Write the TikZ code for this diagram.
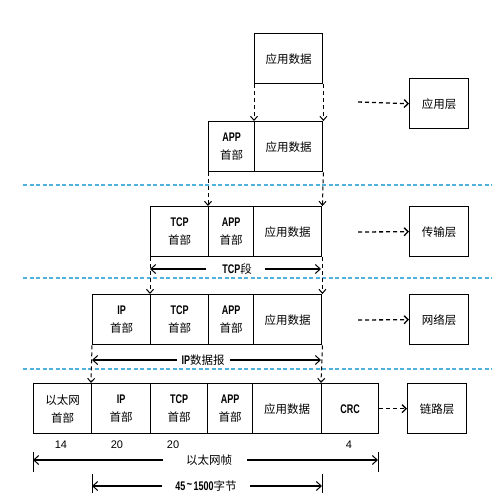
\documentclass[tikz,border=0pt]{standalone}
\usepackage{fontspec}
\setmainfont{Liberation Sans}
\newfontfamily\cjk{Noto Sans CJK SC}
\usetikzlibrary{arrows.meta}
\definecolor{sepblue}{RGB}{80,178,220}
\newcommand{\lat}[1]{\scalebox{0.72}[1]{\fontsize{12.5pt}{14pt}\selectfont\bfseries #1}}
\newcommand{\zh}[1]{{\cjk #1}}
\tikzset{
  box/.style={draw=black, line width=1.4pt, minimum height=50pt, inner sep=0pt, anchor=north west, align=center, font=\fontsize{11.5pt}{18pt}\selectfont},
  layerbox/.style={box, minimum width=59pt},
  vdash/.style={draw=black, line width=1pt, dash pattern=on 4pt off 3pt, -{Straight Barb[length=4pt,width=7pt]}},
  ldash/.style={draw=black, line width=1.3pt, dash pattern=on 4pt off 3pt, -{Straight Barb[length=4pt,width=8pt]}},
  blueline/.style={draw=sepblue, line width=1.2pt, dash pattern=on 4pt off 2.5pt},
  dim/.style={draw=black, line width=1.1pt, -{Straight Barb[length=5pt,width=9pt,line width=1pt]}},
  tick/.style={draw=black, line width=0.9pt},
  lab/.style={inner sep=1pt, font=\fontsize{11.5pt}{13pt}\selectfont},
  num/.style={inner sep=0pt, font=\fontsize{11pt}{12pt}\selectfont}
}
\begin{document}
\begin{tikzpicture}[x=1pt,y=-1pt]
\useasboundingbox[fill=white] (0,0) rectangle (500,500);
% blue separators
\draw[blueline] (23,185) -- (492,185);
\draw[blueline] (23,278) -- (492,278);
\draw[blueline] (23,369) -- (492,369);
% row 1
\node[box, minimum width=68pt] (d1) at (254,33) {\zh{应用数据}};
% row 2
\node[box, minimum width=46pt] (a2) at (208,121) {\lat{APP}\\\zh{首部}};
\node[box, minimum width=68pt] (d2) at (254,121) {\zh{应用数据}};
% row 3
\node[box, minimum width=58pt] (t3) at (150,206) {\lat{TCP}\\\zh{首部}};
\node[box, minimum width=45pt] (a3) at (208,206) {\lat{APP}\\\zh{首部}};
\node[box, minimum width=68pt] (d3) at (253,206) {\zh{应用数据}};
% row 4
\node[box, minimum width=58pt] (i4) at (92,294) {\lat{IP}\\\zh{首部}};
\node[box, minimum width=58pt] (t4) at (150,294) {\lat{TCP}\\\zh{首部}};
\node[box, minimum width=45pt] (a4) at (208,294) {\lat{APP}\\\zh{首部}};
\node[box, minimum width=68pt] (d4) at (253,294) {\zh{应用数据}};
% row 5
\node[box, minimum width=58pt] (e5) at (33,383) {\zh{以太网}\\\zh{首部}};
\node[box, minimum width=59pt] (i5) at (91,383) {\lat{IP}\\\zh{首部}};
\node[box, minimum width=57pt] (t5) at (150,383) {\lat{TCP}\\\zh{首部}};
\node[box, minimum width=45pt] (a5) at (207,383) {\lat{APP}\\\zh{首部}};
\node[box, minimum width=69pt] (d5) at (252,383) {\zh{应用数据}};
\node[box, minimum width=57pt] (c5) at (321,383) {\lat{CRC}};
% layer boxes
\node[layerbox] (L1) at (409,78) {\zh{应用层}};
\node[layerbox] (L2) at (409,206) {\zh{传输层}};
\node[layerbox] (L3) at (409,294) {\zh{网络层}};
\node[layerbox] (L4) at (407,383) {\zh{链路层}};
% layer arrows
\coordinate (s1) at (358,102);
\coordinate (s2) at (358,232);
\coordinate (s3) at (358,320);
\draw[ldash] (s1) -- (L1.west);
\draw[ldash] (s2) -- (L2.west);
\draw[ldash] (s3) -- (L3.west);
\draw[ldash] (c5.east) -- (L4.west);
% vertical dashed arrows
\draw[vdash] (d1.south west) -- (d2.north west);
\draw[vdash] (d1.south east) -- (d2.north east);
\draw[vdash] (a2.south west) -- (a3.north west);
\draw[vdash] (d2.south east) -- (d3.north east);
\draw[vdash] (t3.south west) -- (t4.north west);
\draw[vdash] (d3.south east) -- (d4.north east);
\draw[vdash] (i4.south west) -- (i5.north west);
\draw[vdash] (d4.south east) -- (c5.north west);
% TCP segment
\node[lab, fill=white] (tcpseg) at (237,269) {\lat{TCP}\zh{段}};
\coordinate (tsL) at (150,269);
\coordinate (tsR) at (321,269);
\draw[dim] (206,269) -- (tsL);
\draw[dim] (265,269) -- (tsR);
% IP datagram
\node[lab, fill=white] (ipdg) at (203,360) {\lat{IP}\zh{数据报}};
\coordinate (ipL) at (92,360);
\coordinate (ipR) at (321,360);
\draw[dim] (177,360) -- (ipL);
\draw[dim] (230,360) -- (ipR);
% numbers
\node[num] (n1) at (61,445) {14};
\node[num] (n2) at (117,445) {20};
\node[num] (n3) at (173,445) {20};
\node[num] (n4) at (349,445) {4};
% ethernet frame
\node[lab] (ethf) at (209,460) {\zh{以太网帧}};
\coordinate (efL) at (33,460);
\coordinate (efR) at (378,460);
\draw[dim] (163,460) -- (efL);
\draw[dim] (247,460) -- (efR);
\draw[tick] (33,452) -- (33,472);
\draw[tick] (378,452) -- (378,472);
% 45~1500
\node[lab] (pay) at (206,486) {\lat{45\,\raisebox{0.3ex}{\textasciitilde}\,1500}\zh{字节}};
\coordinate (pL) at (92,486);
\coordinate (pR) at (322,486);
\draw[dim] (162,486) -- (pL);
\draw[dim] (250,486) -- (pR);
\draw[tick] (92,474) -- (92,493);
\draw[tick] (322,474) -- (322,493);
\end{tikzpicture}
\end{document}
